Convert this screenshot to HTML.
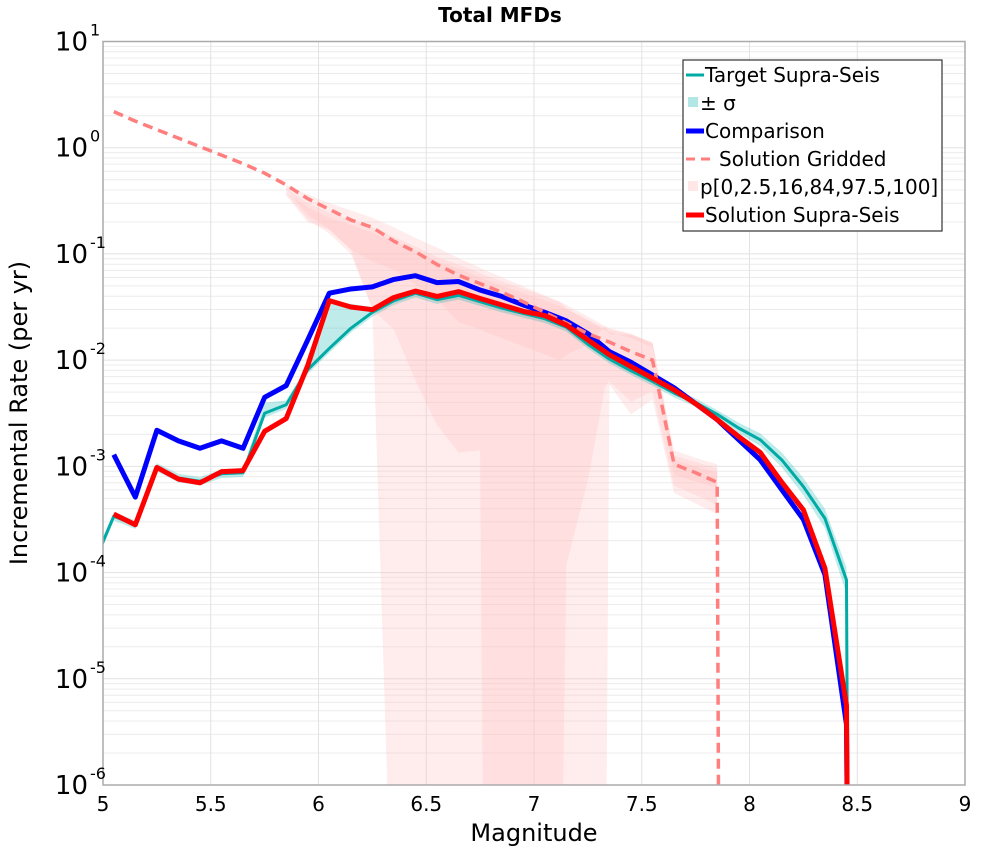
<!DOCTYPE html>
<html><head><meta charset="utf-8"><style>
html,body{margin:0;background:#fff;overflow:hidden;width:1000px;height:850px;}
svg{display:block;}
svg text{font-family:"DejaVu Sans","Liberation Sans",sans-serif;}
</style></head><body>
<svg id="chart" width="1000" height="850" xmlns="http://www.w3.org/2000/svg">
<text x="500" y="22" text-anchor="middle" font-size="20" font-weight="bold">Total MFDs</text>
<defs><clipPath id="pc"><rect x="103" y="41.5" width="862" height="743.5"/></clipPath></defs>
<g id="grid"></g>
<g id="bands" clip-path="url(#pc)"></g>
<g id="lines" clip-path="url(#pc)"></g>
<rect x="103" y="41.5" width="862" height="743.5" fill="none" stroke="#aaa" stroke-width="1.5"/>
<g id="ticks"></g>
<text x="534" y="841" text-anchor="middle" font-size="24">Magnitude</text>
<text transform="translate(27,413) rotate(-90)" text-anchor="middle" font-size="24">Incremental Rate (per yr)</text>
<g>
<rect x="683" y="60" width="259" height="171" fill="#fff" stroke="#333" stroke-width="1.2"/>
<g><line x1="686" y1="75" x2="704" y2="75" stroke="#00aaa5" stroke-width="3"/><text x="705" y="82" font-size="20">Target Supra-Seis</text></g>
<g><rect x="688" y="97" width="10" height="10" fill="#00b0aa" fill-opacity="0.3"/><text x="700" y="110" font-size="20">± σ</text></g>
<g><line x1="686" y1="131" x2="704" y2="131" stroke="#0000ff" stroke-width="5"/><text x="705" y="138" font-size="20">Comparison</text></g>
<g><line x1="686" y1="159" x2="712" y2="159" stroke="#ff7f7f" stroke-width="3" stroke-dasharray="9,6"/><text x="719" y="166" font-size="20">Solution Gridded</text></g>
<g><rect x="688" y="181" width="10" height="10" fill="#ffb0b0" fill-opacity="0.3"/><text x="700" y="194" font-size="20">p[0,2.5,16,84,97.5,100]</text></g>
<g><line x1="686" y1="215" x2="704" y2="215" stroke="#ff0000" stroke-width="5"/><text x="705" y="222" font-size="20">Solution Supra-Seis</text></g>
</g>
</svg>
<script>
// data (log10 of rate)
const binM = [5.05,5.15,5.25,5.35,5.45,5.55,5.65,5.75,5.85,5.95,6.05,6.15,6.25,6.35,6.45,6.55,6.65,6.75,6.85,6.95,7.05,7.15,7.25,7.35,7.45,7.55,7.65,7.75,7.85,7.95,8.05,8.15,8.25,8.35,8.45,8.46];
const solutionLog = [-3.45,-3.55,-3.01,-3.12,-3.155,-3.05,-3.04,-2.67,-2.55,-2.05,-1.44,-1.50,-1.525,-1.41,-1.35,-1.40,-1.355,-1.42,-1.48,-1.54,-1.58,-1.67,-1.81,-1.95,-2.06,-2.17,-2.28,-2.41,-2.56,-2.72,-2.87,-3.15,-3.41,-3.96,-5.25,-8];
const comparisonLog = [-2.89,-3.29,-2.66,-2.76,-2.83,-2.76,-2.83,-2.35,-2.24,-1.81,-1.37,-1.33,-1.31,-1.24,-1.205,-1.27,-1.26,-1.34,-1.40,-1.48,-1.55,-1.63,-1.75,-1.92,-2.02,-2.14,-2.26,-2.41,-2.56,-2.75,-2.94,-3.22,-3.50,-4.02,-5.43,-8];
const targetM = [4.95].concat(binM);
const targetLog = [-3.95,-3.47,-3.55,-3.01,-3.11,-3.14,-3.07,-3.06,-2.50,-2.42,-2.09,-1.89,-1.70,-1.55,-1.44,-1.37,-1.43,-1.39,-1.45,-1.51,-1.56,-1.61,-1.69,-1.85,-1.99,-2.10,-2.20,-2.31,-2.40,-2.51,-2.64,-2.75,-2.94,-3.19,-3.49,-4.07,-8];
const sigmaUpperLog = [-3.90,-3.43,-3.51,-2.97,-3.07,-3.10,-3.03,-3.02,-2.40,-2.38,-2.05,-1.45,-1.47,-1.50,-1.40,-1.33,-1.39,-1.35,-1.41,-1.47,-1.52,-1.57,-1.65,-1.81,-1.95,-2.06,-2.16,-2.27,-2.36,-2.47,-2.59,-2.69,-2.87,-3.11,-3.40,-3.95,-8];
const sigmaLowerLog = [-4.0,-3.51,-3.59,-3.05,-3.15,-3.18,-3.11,-3.10,-2.54,-2.46,-2.13,-1.93,-1.74,-1.59,-1.48,-1.41,-1.47,-1.43,-1.49,-1.55,-1.60,-1.65,-1.73,-1.89,-2.03,-2.14,-2.24,-2.35,-2.44,-2.55,-2.69,-2.81,-3.01,-3.27,-3.58,-4.2,-8];
const griddedM = [5.05,5.15,5.25,5.35,5.45,5.55,5.65,5.75,5.85,5.95,6.05,6.15,6.25,6.35,6.45,6.55,6.65,6.75,6.85,6.95,7.05,7.15,7.25,7.35,7.45,7.55,7.65,7.75,7.85,7.86];
const griddedLog = [0.34,0.25,0.17,0.09,0.01,-0.07,-0.15,-0.24,-0.35,-0.48,-0.58,-0.68,-0.75,-0.88,-0.98,-1.10,-1.20,-1.28,-1.36,-1.45,-1.55,-1.65,-1.75,-1.83,-1.92,-2.00,-2.98,-3.06,-3.15,-8];
const bandM = [5.85,5.95,6.05,6.15,6.25,6.35,6.45,6.55,6.65,6.75,6.77,7.12,7.15,7.25,7.33,7.35,7.45,7.55,7.65,7.75,7.85];
const p100Log = [-0.35,-0.44,-0.52,-0.59,-0.66,-0.75,-0.85,-0.94,-1.04,-1.13,-1.15,-1.45,-1.51,-1.62,-1.70,-1.71,-1.76,-1.83,-2.85,-2.92,-2.98];
const p0Log = [-0.39,-0.63,-0.77,-0.96,-1.52,-8,-8,-8,-8,-8,-8,-8,-8,-8,-8,-2.23,-2.51,-2.37,-3.25,-3.35,-3.45];
const p975Log = [-0.38,-0.52,-0.61,-0.68,-0.75,-0.84,-0.93,-1.03,-1.10,-1.18,-1.20,-1.45,-1.48,-1.59,-1.68,-1.70,-1.75,-1.84,-2.90,-2.96,-3.02];
const p25Log = [-0.43,-0.67,-0.81,-1.00,-1.52,-1.71,-2.19,-2.61,-2.87,-2.85,-8,-8,-3.93,-3.13,-2.25,-2.20,-2.39,-2.29,-3.18,-3.27,-3.36];
const p84Log = [-0.42,-0.56,-0.66,-0.73,-0.80,-0.88,-0.97,-1.07,-1.14,-1.22,-1.24,-1.49,-1.52,-1.63,-1.72,-1.74,-1.79,-1.88,-2.94,-3.00,-3.06];
const p16Log = [-0.45,-0.70,-0.77,-0.96,-1.07,-1.15,-1.29,-1.43,-1.64,-1.71,-1.73,-2.0,-1.95,-1.85,-1.68,-1.76,-1.76,-1.85,-3.08,-3.14,-3.20];
const xTicks = [5,5.5,6,6.5,7,7.5,8,8.5,9];
const xTickLabels = ["5","5.5","6","6.5","7","7.5","8","8.5","9"];
const yDecades = [1,0,-1,-2,-3,-4,-5,-6];

const X0=103,X1=965,Y0=41.5,Y1=785;
const xs = m => X0 + (m-5)/4*(X1-X0);
const ys = l => Y0 + (1-l)/7*(Y1-Y0);
const NS='http://www.w3.org/2000/svg';
function mk(tag, parent){const e=document.createElementNS(NS,tag);parent.appendChild(e);return e;}
const grid=document.getElementById('grid'), bands=document.getElementById('bands'), lines=document.getElementById('lines'), ticks=document.getElementById('ticks');

for(let d=-6; d<1; d++){ for(let k=1;k<10;k++){ const y=ys(d+Math.log10(k));
  const l=mk('line',grid);
  
  
  l.setAttribute('x1',X0);l.setAttribute('x2',X1);l.setAttribute('y1',y);l.setAttribute('y2',y);
  l.setAttribute('stroke', k==1?'#e2e2e2':'#ececec');l.setAttribute('stroke-width','1');}}
xTicks.forEach((m,i)=>{
  const l=mk('line',grid);
  
  
  l.setAttribute('x1',xs(m));l.setAttribute('x2',xs(m));l.setAttribute('y1',Y0);l.setAttribute('y2',Y1);
  l.setAttribute('stroke','#e2e2e2');
  const t=mk('text',ticks);
  
  
  t.setAttribute('x',xs(m));t.setAttribute('y',811);t.setAttribute('text-anchor','middle');t.setAttribute('font-size','20');
  t.textContent=xTickLabels[i];
});
yDecades.forEach(d=>{
  const t=mk('text',ticks);
  
  
  t.setAttribute('x',88);t.setAttribute('y',ys(d)+9);t.setAttribute('text-anchor','end');t.setAttribute('font-size','26');
  t.textContent='10';
  const s=mk('text',ticks);
  
  
  s.setAttribute('x',90);s.setAttribute('y',ys(d)-6);s.setAttribute('font-size','16');
  s.textContent=String(d);
});

function band(ms, up, lo, fill, op, name){
  const p=mk('polygon',bands);
  
  
  const pts=[];
  ms.forEach((m,i)=>pts.push(xs(m)+','+ys(up[i])));
  for(let i=ms.length-1;i>=0;i--) pts.push(xs(ms[i])+','+ys(lo[i]));
  p.setAttribute('points',pts.join(' '));
  p.setAttribute('fill',fill);p.setAttribute('fill-opacity',op);
}
band(bandM,p100Log,p0Log,'#ffc0c0',0.3,'band-p0-p100');
band(bandM,p975Log,p25Log,'#ffc0c0',0.3,'band-p2.5-p97.5');
band(bandM,p84Log,p16Log,'#ffc0c0',0.3,'band-p16-p84');
band(targetM,sigmaUpperLog,sigmaLowerLog,'#00b0aa',0.25,'sigma-band');

function line(ms, vals, color, w, dash, name){
  const p=mk('polyline',lines);
  
  
  p.setAttribute('points',ms.map((m,i)=>xs(m)+','+ys(vals[i])).join(' '));
  p.setAttribute('fill','none');p.setAttribute('stroke',color);p.setAttribute('stroke-width',w);
  p.setAttribute('stroke-linejoin','round');
  if(dash) p.setAttribute('stroke-dasharray',dash);
}
line(targetM,targetLog,'#00aaa5',3,null,'target-supra-seis-line');
line(binM,comparisonLog,'#0000ff',5,null,'comparison-line');
line(griddedM,griddedLog,'#ff7f7f',3.5,'10,6','solution-gridded-line');
line(binM,solutionLog,'#ff0000',5,null,'solution-supra-seis-line');
</script>
</body></html>
